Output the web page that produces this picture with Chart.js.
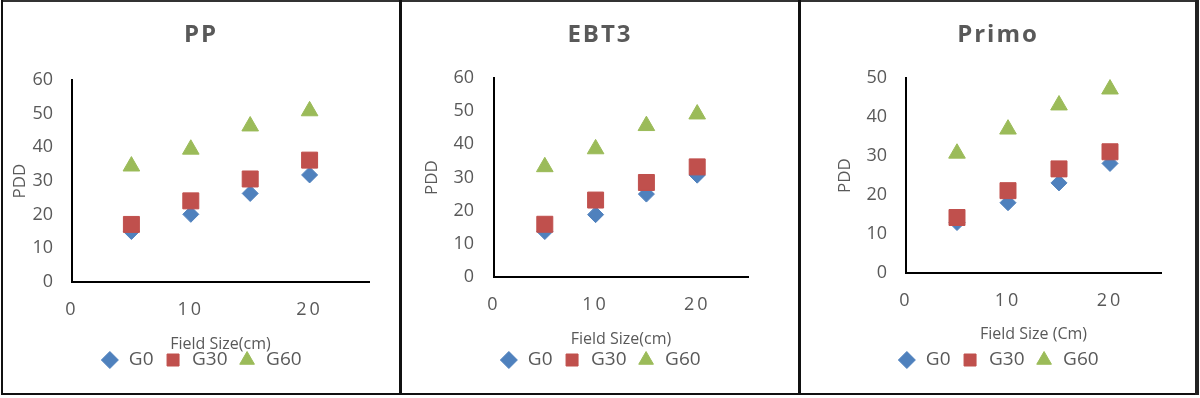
<!DOCTYPE html>
<html>
<head>
<meta charset="utf-8">
<script src="https://cdn.jsdelivr.net/npm/chart.js@4/dist/chart.umd.min.js"></script>
<style>
  body { margin: 0; background: #fff; width: 1200px; height: 398px; position: relative; overflow: hidden; }
  .line { position: absolute; background: #111; }
  canvas { position: absolute; top: 2px; }
</style>
</head>
<body>
<div class="line" style="left:1px;top:0;width:1198px;height:2px;background:#333"></div>
<div class="line" style="left:1px;top:393px;width:1198px;height:2px"></div>
<div class="line" style="left:1px;top:0;width:2px;height:395px"></div>
<div class="line" style="left:399px;top:0;width:3px;height:395px"></div>
<div class="line" style="left:798px;top:0;width:3px;height:395px"></div>
<div class="line" style="left:1195px;top:0;width:4px;height:395px;background:#222"></div>

<canvas id="chart-pp" width="396" height="391" style="left:3px"></canvas>
<canvas id="chart-ebt3" width="396" height="391" style="left:402px"></canvas>
<canvas id="chart-primo" width="394" height="391" style="left:801px"></canvas>

<script>
// field sizes (cm) on the x axis
const fieldSizes = [5, 10, 15, 20];
const seriesNames = ['G0', 'G30', 'G60'];

// PP
const ppG0 = [15, 20.1, 26.3, 31.8];
const ppG30 = [17.1, 24.1, 30.6, 36.2];
const ppG60 = [34.4, 39.4, 46.3, 50.8];

// EBT3
const ebtG0 = [13.7, 18.8, 25.0, 30.7];
const ebtG30 = [15.9, 23.2, 28.5, 33.2];
const ebtG60 = [33.2, 38.6, 45.6, 49.1];

// Primo
const primoG0 = [12.9, 18.0, 23.1, 28.1];
const primoG30 = [14.2, 21.1, 26.7, 31.1];
const primoG60 = [30.7, 36.9, 43.1, 47.2];

const xMax = 25;
const xStep = 10;
const yStep = 10;

const gray = '#595959';
const tickSize = 18;
const legendSize = 19;
const legendPad = 10;
const titleSize = 24;
Chart.defaults.font.family = "'Open Sans', sans-serif";
Chart.defaults.color = gray;

// letter spaced title and x tick labels, like the Excel export
function spaced(obj, name, ctx, sp) {
  const orig = obj[name];
  obj[name] = function (...args) {
    ctx.save();
    ctx.letterSpacing = sp;
    orig.apply(this, args);
    ctx.restore();
  };
}
const spacingPlugin = {
  id: 'spacing',
  beforeDraw(chart) {
    if (chart.$spaced) return;
    chart.$spaced = true;
    if (chart.titleBlock) spaced(chart.titleBlock, 'draw', chart.ctx, '2px');
    spaced(chart.scales.x, 'drawLabels', chart.ctx, '3px');
  }
};

function makeChart(id, title, xTitle, yMax, g0, g30, g60, box) {
  const canvas = document.getElementById(id);
  const W = canvas.width, H = canvas.height;
  const legendTop = box.legendY - legendPad - legendSize / 2;
  const legendHeight = legendSize + legendPad + 10;
  const titleHalf = titleSize * 1.2 / 2;

  const series = [
    { label: seriesNames[0], data: g0, style: 'rectRot', radius: 8, color: '#4F81BD', order: 3 },
    { label: seriesNames[1], data: g30, style: 'rect', radius: 11.3, color: '#C0504D', order: 2 },
    { label: seriesNames[2], data: g60, style: 'triangle', radius: 9.6, color: '#9BBB59', order: 1 }
  ];

  return new Chart(canvas, {
    type: 'scatter',
    data: {
      datasets: series.map(s => ({
        label: s.label,
        data: fieldSizes.map((x, i) => ({ x: x, y: s.data[i] })),
        pointStyle: s.style,
        pointRadius: s.radius,
        pointHoverRadius: s.radius,
        backgroundColor: s.color,
        borderColor: s.color,
        borderWidth: 1,
        order: s.order
      }))
    },
    options: {
      responsive: false,
      animation: false,
      layout: { padding: { left: 0, top: 0, right: 0, bottom: H - (legendTop + legendHeight) } },
      plugins: {
        tooltip: { enabled: false },
        title: {
          display: true,
          text: title,
          color: gray,
          font: { size: titleSize, weight: 'bold' },
          padding: { top: box.titleY - titleHalf, bottom: box.t - box.titleY - titleHalf }
        },
        legend: {
          position: 'bottom',
          labels: {
            usePointStyle: true,
            boxHeight: 12,
            padding: legendPad,
            color: gray,
            font: { size: legendSize },
            sort: (a, b) => a.datasetIndex - b.datasetIndex
          }
        }
      },
      scales: {
        x: {
          type: 'linear',
          min: 0,
          max: xMax,
          grid: { display: false, drawTicks: false },
          border: { color: '#000', width: 2 },
          ticks: { stepSize: xStep, includeBounds: false, padding: 17, font: { size: tickSize }, color: gray },
          title: {
            display: true,
            text: xTitle,
            color: gray,
            font: { size: 16 },
            padding: { top: 0, bottom: legendTop - 9.6 - box.xTitleY }
          },
          afterFit(scale) { scale.height = legendTop - box.b; }
        },
        y: {
          min: 0,
          max: yMax,
          grid: { display: false, drawTicks: false },
          border: { color: '#000', width: 2 },
          ticks: { stepSize: yStep, padding: box.yTickPad, font: { size: tickSize }, color: gray },
          title: {
            display: true,
            text: 'PDD',
            color: gray,
            font: { size: 17 },
            padding: { top: box.pddX - 10.2, bottom: 0 }
          },
          afterFit(scale) { scale.width = box.l; }
        },
        // empty right-hand margin, so the title and legend stay centred on the panel
        yRight: {
          position: 'right',
          min: 0,
          max: yMax,
          grid: { display: false, drawTicks: false },
          border: { display: false },
          ticks: { display: false },
          afterFit(scale) { scale.width = W - box.r; }
        }
      }
    },
    plugins: [spacingPlugin]
  });
}

makeChart('chart-pp', 'PP', 'Field Size(cm)', 60, ppG0, ppG30, ppG60,
  { l: 69, r: 366, t: 78, b: 280, titleY: 33, pddX: 17, xTitleY: 342, legendY: 358, yTickPad: 19 });
makeChart('chart-ebt3', 'EBT3', 'Field Size(cm)', 60, ebtG0, ebtG30, ebtG60,
  { l: 92, r: 346, t: 76, b: 275, titleY: 33, pddX: 29.7, xTitleY: 337, legendY: 358, yTickPad: 20 });
makeChart('chart-primo', 'Primo', 'Field Size (Cm)', 50, primoG0, primoG30, primoG60,
  { l: 105, r: 360, t: 76.3, b: 270.7, titleY: 33, pddX: 44, xTitleY: 332, legendY: 358, yTickPad: 19 });
</script>
</body>
</html>
